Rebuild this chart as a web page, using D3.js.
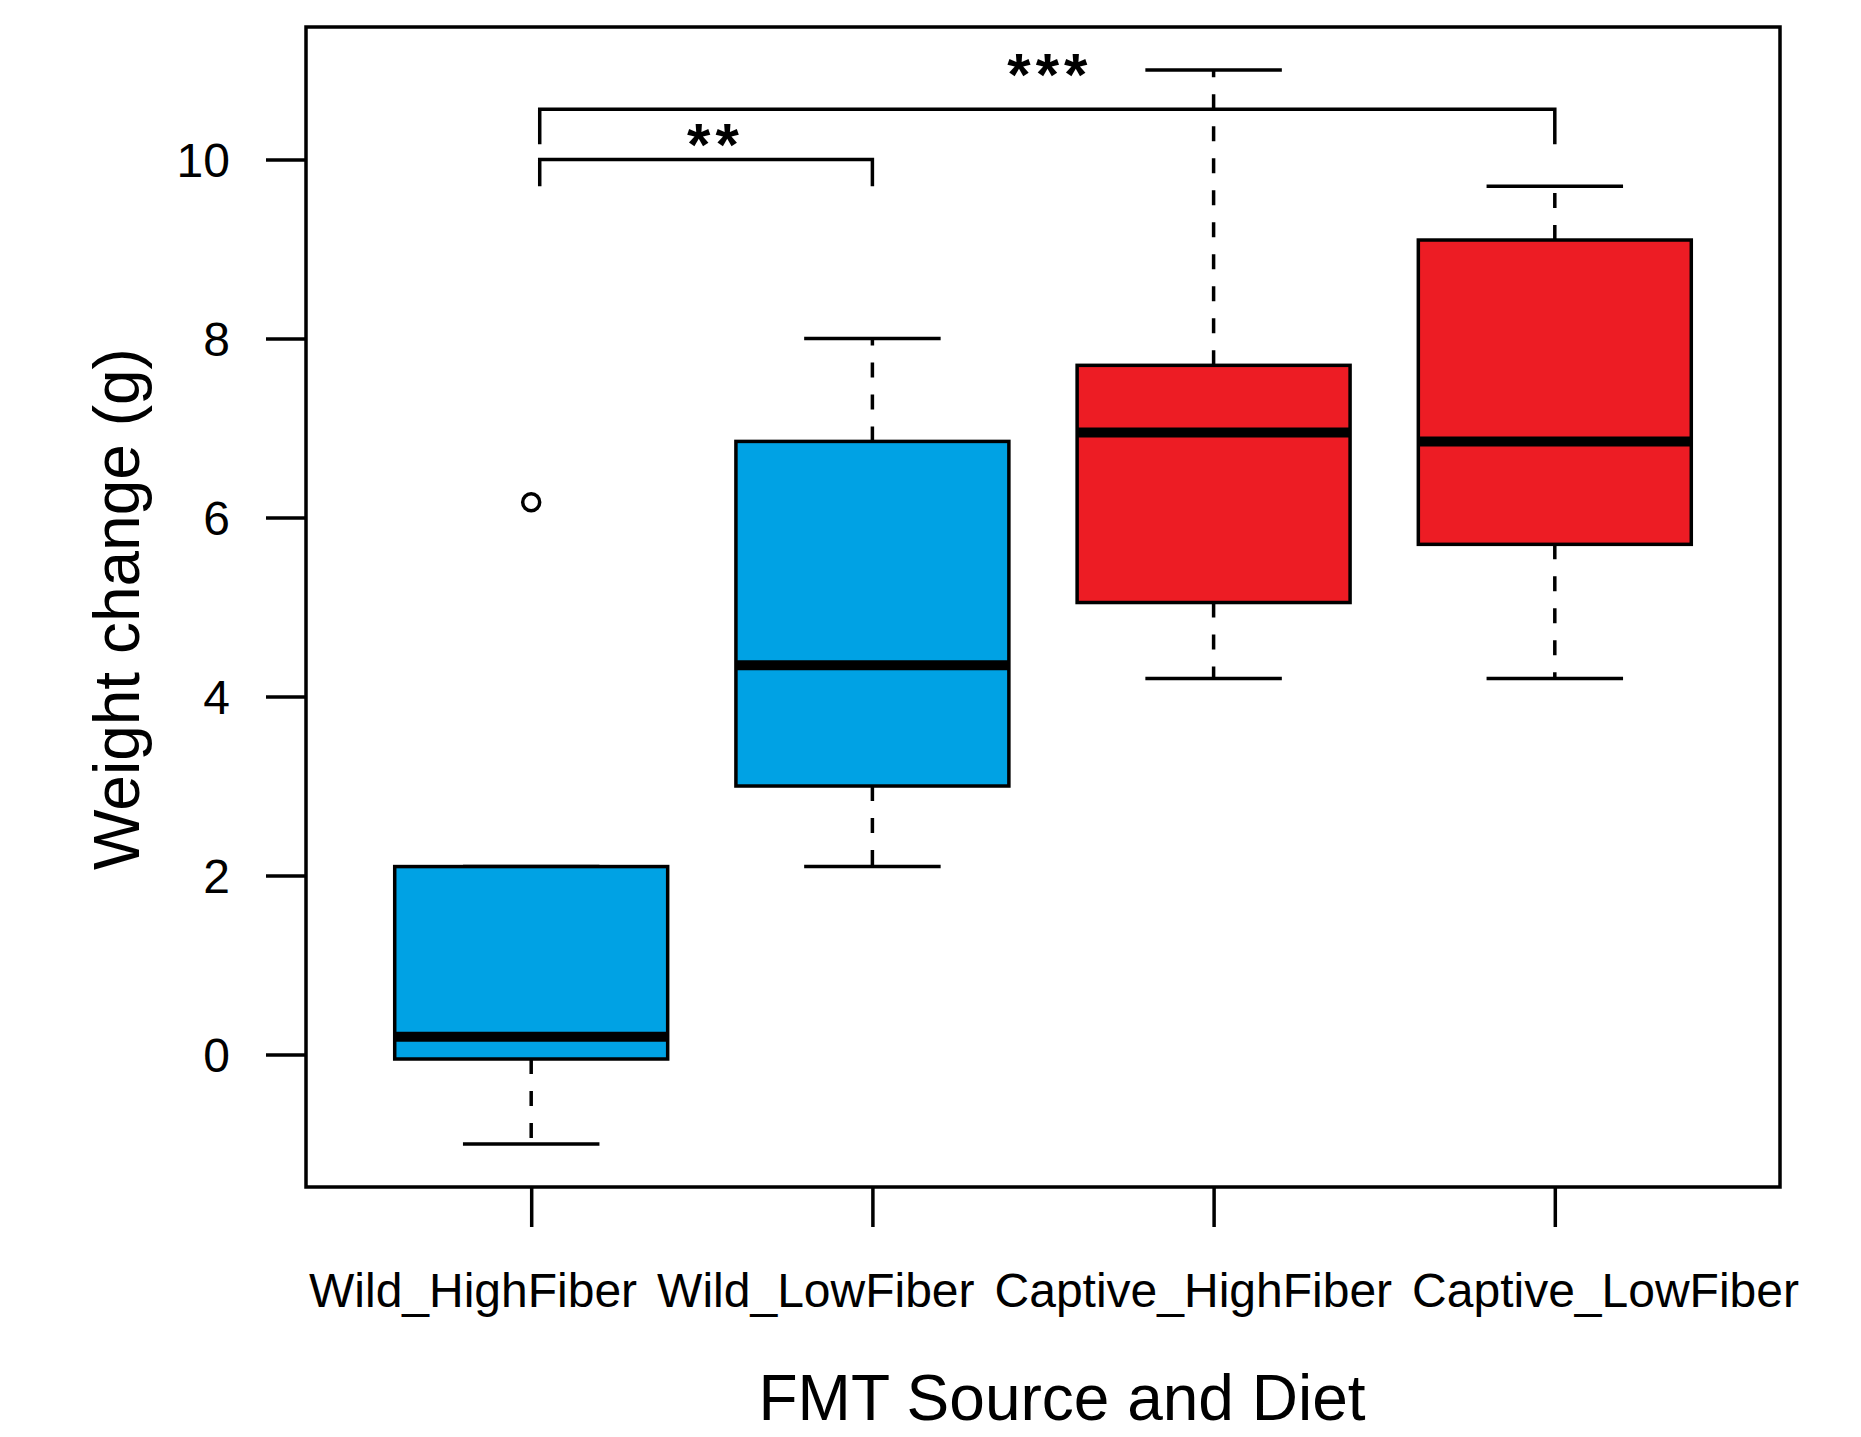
<!DOCTYPE html>
<html>
<head>
<meta charset="utf-8">
<script src="https://cdn.jsdelivr.net/npm/d3@7"></script>
<style>
  body { margin: 0; background: #ffffff; }
  text { font-family: "Liberation Sans", Arial, Helvetica, sans-serif; fill: #000; }
</style>
</head>
<body>
<div id="chart"></div>
<script>
// DATA
var groups = ["Wild_HighFiber", "Wild_LowFiber", "Captive_HighFiber", "Captive_LowFiber"];
var source = ["Wild", "Wild", "Captive", "Captive"];
var lowerWhisker = [-1.0, 2.1, 4.2, 4.2];
var q1 = [-0.05, 3.0, 5.05, 5.7];
var median = [0.2, 4.35, 6.95, 6.85];
var q3 = [2.1, 6.85, 7.7, 9.1];
var upperWhisker = [2.1, 8.0, 11.0, 9.7];
var outliers = [[6.17], [], [], []];
var yTicks = [0, 2, 4, 6, 8, 10];

// significance brackets (x in group units, 1-based; y in grams)
var bracketFrom = [1.025, 1.025];
var bracketTo = [2, 4];
var bracketHeight = [10.0, 10.56];
var bracketTip = [9.7, 10.17];
var bracketLabel = ["**", "***"];
var bracketLabelX = [1.54, 2.52];
var bracketLabelY = [10.26, 11.04];

// LAYOUT
var W = 1861, H = 1437;
var plot = {left: 306, right: 1780, top: 27, bottom: 1187};
var lw = 3.5;

var color = d3.scaleOrdinal().domain(["Wild", "Captive"]).range(["#00a2e4", "#ed1c24"]);

var svg = d3.select("#chart").append("svg")
  .attr("width", W).attr("height", H);

var x = d3.scaleLinear().domain([0.34, 4.66]).range([plot.left, plot.right]);
var y = d3.scaleLinear().domain([-1.48, 11.48]).range([plot.bottom, plot.top]);
var boxW = x(1.4) - x(0.6);

var rows = groups.map(function(g, i) {
  return {name: g, i: i + 1, src: source[i], lo: lowerWhisker[i], q1: q1[i],
          med: median[i], q3: q3[i], hi: upperWhisker[i], out: outliers[i]};
});

// axes
var yAxis = d3.axisLeft(y).tickValues(yTicks).tickSize(40).tickPadding(36);
var gy = svg.append("g").attr("transform", `translate(${plot.left},0)`).call(yAxis);
gy.select(".domain").remove();
gy.selectAll(".tick line").attr("stroke", "#000").attr("stroke-width", lw);
gy.selectAll(".tick text").attr("font-size", 48).attr("dy", "0.36em")
  .style("font-family", "'Liberation Sans', Arial, sans-serif").attr("fill", "#000");

var xAxis = d3.axisBottom(x).tickValues(d3.range(1, groups.length + 1)).tickSize(40).tickFormat("");
var gx = svg.append("g").attr("transform", `translate(0,${plot.bottom})`).call(xAxis);
gx.select(".domain").remove();
gx.selectAll(".tick line").attr("stroke", "#000").attr("stroke-width", lw);

// x labels, laid out side by side as in the original
var labels = svg.append("g").selectAll("text").data(rows).enter().append("text")
  .attr("font-size", 48).attr("y", 1307).text(function(d) { return d.name; });
var cursor = plot.left + 3;
labels.each(function() {
  var len = this.getComputedTextLength();
  d3.select(this).attr("x", cursor);
  cursor += len + 20;
});

// whiskers
var g = svg.append("g");
rows.forEach(function(d) {
  var cx = x(d.i);
  [[d.q3, d.hi], [d.q1, d.lo]].forEach(function(seg) {
    if (seg[0] !== seg[1]) {
      g.append("line").attr("x1", cx).attr("x2", cx)
        .attr("y1", y(seg[0])).attr("y2", y(seg[1]))
        .attr("stroke", "#000").attr("stroke-width", lw).attr("stroke-dasharray", "15,17");
    }
    g.append("line").attr("x1", cx - boxW / 4).attr("x2", cx + boxW / 4)
      .attr("y1", y(seg[1])).attr("y2", y(seg[1]))
      .attr("stroke", "#000").attr("stroke-width", lw);
  });
});

// boxes
g.selectAll("rect.box").data(rows).enter().append("rect")
  .attr("class", "box")
  .attr("x", function(d) { return x(d.i) - boxW / 2; })
  .attr("width", boxW)
  .attr("y", function(d) { return y(d.q3); })
  .attr("height", function(d) { return y(d.q1) - y(d.q3); })
  .attr("fill", function(d) { return color(d.src); })
  .attr("stroke", "#000").attr("stroke-width", lw);

g.selectAll("line.med").data(rows).enter().append("line")
  .attr("class", "med")
  .attr("x1", function(d) { return x(d.i) - boxW / 2; })
  .attr("x2", function(d) { return x(d.i) + boxW / 2; })
  .attr("y1", function(d) { return y(d.med); })
  .attr("y2", function(d) { return y(d.med); })
  .attr("stroke", "#000").attr("stroke-width", 10);

// outliers
rows.forEach(function(d) {
  d.out.forEach(function(v) {
    g.append("circle").attr("cx", x(d.i)).attr("cy", y(v)).attr("r", 8.5)
      .attr("fill", "none").attr("stroke", "#000").attr("stroke-width", lw);
  });
});

// brackets
bracketFrom.forEach(function(f, k) {
  var t = bracketTo[k];
  var pts = [[x(f), y(bracketTip[k])], [x(f), y(bracketHeight[k])],
             [x(t), y(bracketHeight[k])], [x(t), y(bracketTip[k])]];
  svg.append("path").attr("d", d3.line()(pts))
    .attr("fill", "none").attr("stroke", "#000").attr("stroke-width", lw);
  svg.append("text")
    .attr("x", x(bracketLabelX[k]))
    .attr("y", y(bracketLabelY[k]) + 29)
    .attr("text-anchor", "middle")
    .attr("font-size", 60)
    .attr("font-weight", "bold")
    .attr("letter-spacing", 5)
    .text(bracketLabel[k]);
});

// frame
svg.append("rect")
  .attr("x", plot.left).attr("y", plot.top)
  .attr("width", plot.right - plot.left).attr("height", plot.bottom - plot.top)
  .attr("fill", "none").attr("stroke", "#000").attr("stroke-width", lw);

// axis titles
svg.append("text")
  .attr("x", 1062).attr("y", 1420)
  .attr("text-anchor", "middle").attr("font-size", 64)
  .text("FMT Source and Diet");

svg.append("text")
  .attr("transform", "translate(139,609) rotate(-90)")
  .attr("text-anchor", "middle").attr("font-size", 64)
  .text("Weight change (g)");
</script>
</body>
</html>
